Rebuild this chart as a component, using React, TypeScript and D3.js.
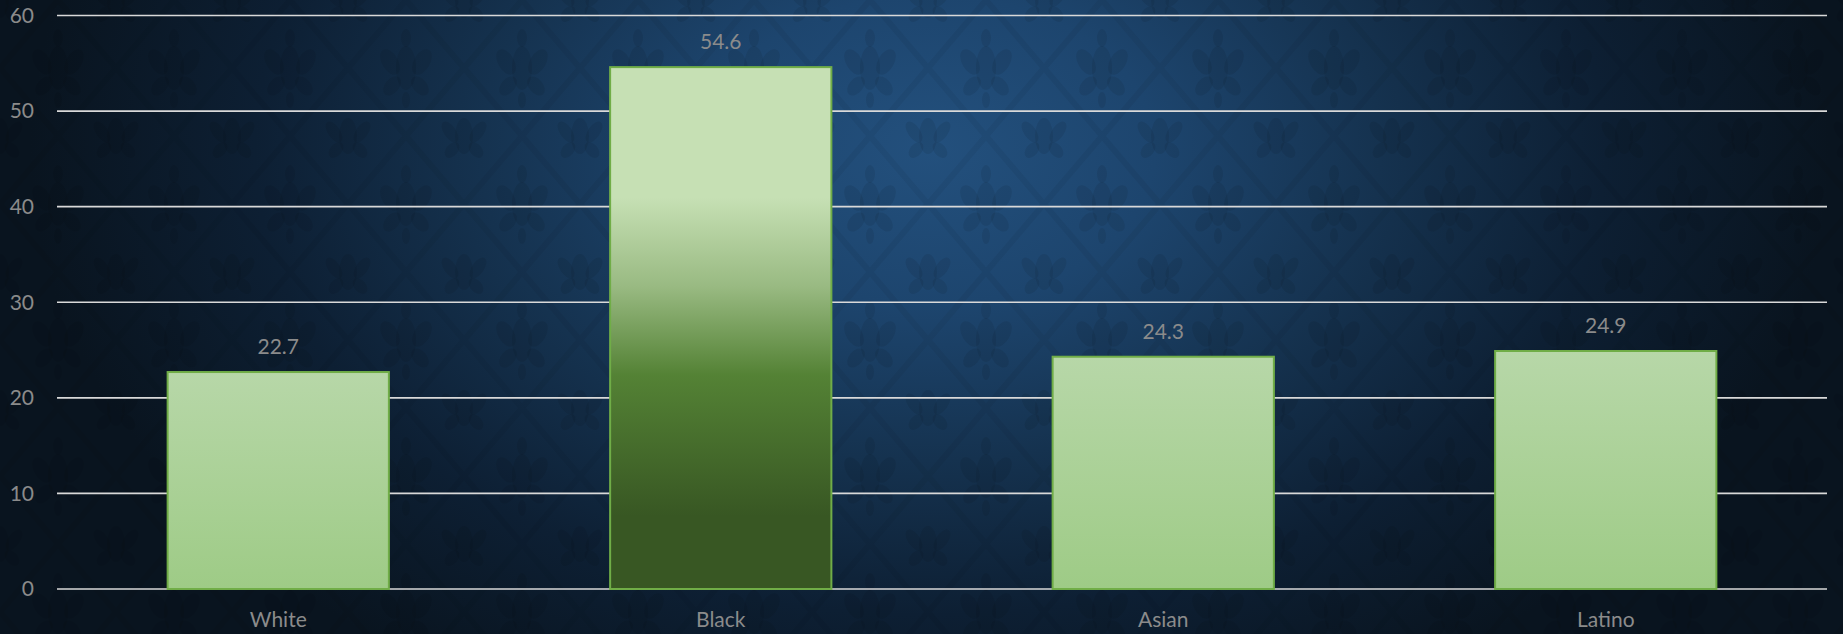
import React from "react";
import * as d3 from "d3";

const categories = ["White", "Black", "Asian", "Latino"];
const values = [22.7, 54.6, 24.3, 24.9];
const yTicks = [0, 10, 20, 30, 40, 50, 60];

const W = 1843;
const H = 634;

export default function App() {
  const left = 57;
  const right = 1827;
  const x = d3
    .scaleBand<string>()
    .domain(categories)
    .range([left, right])
    .paddingInner(0.5)
    .paddingOuter(0.25);
  const y = d3.scaleLinear().domain([0, 60]).range([589, 15.5]);

  const font = "Lato, 'Open Sans', sans-serif";
  const textColor = "#8b8b8b";

  return (
    <svg
      width={W}
      height={H}
      style={{ position: "absolute", left: 0, top: 0, display: "block" }}
    >
      <defs>
        <radialGradient
          id="bg"
          gradientUnits="userSpaceOnUse"
          cx={0}
          cy={0}
          r={1}
          gradientTransform="translate(930,150) scale(900,620)"
        >
          <stop offset="0" stopColor="#23507d" />
          <stop offset="0.25" stopColor="#1d456e" />
          <stop offset="0.5" stopColor="#15324f" />
          <stop offset="0.75" stopColor="#0d1f33" />
          <stop offset="1" stopColor="#09141f" />
        </radialGradient>
        <pattern
          id="damask"
          patternUnits="userSpaceOnUse"
          width={116}
          height={136}
        >
          <g fill="#000" fillOpacity={0.08}>
            <g transform="translate(58,68)">
              <ellipse cx={0} cy={0} rx={10} ry={22} />
              <ellipse cx={-16} cy={-6} rx={8} ry={14} transform="rotate(-30,-16,-6)" />
              <ellipse cx={16} cy={-6} rx={8} ry={14} transform="rotate(30,16,-6)" />
              <ellipse cx={-14} cy={18} rx={7} ry={11} transform="rotate(40,-14,18)" />
              <ellipse cx={14} cy={18} rx={7} ry={11} transform="rotate(-40,14,18)" />
              <ellipse cx={0} cy={-30} rx={5} ry={9} />
              <ellipse cx={0} cy={32} rx={4} ry={8} />
            </g>
            {[
              [0, 0],
              [116, 0],
              [0, 136],
              [116, 136],
            ].map(([cx, cy], i) => (
              <g key={i} transform={`translate(${cx},${cy})`}>
                <ellipse cx={0} cy={0} rx={9} ry={18} />
                <ellipse cx={-14} cy={-4} rx={6} ry={12} transform="rotate(-35,-14,-4)" />
                <ellipse cx={14} cy={-4} rx={6} ry={12} transform="rotate(35,14,-4)" />
                <ellipse cx={-12} cy={14} rx={6} ry={9} transform="rotate(40,-12,14)" />
                <ellipse cx={12} cy={14} rx={6} ry={9} transform="rotate(-40,12,14)" />
              </g>
            ))}
            <path d="M58,0 L116,68 L58,136 L0,68 Z" fill="none" stroke="#000" strokeOpacity={0.05} strokeWidth={6} />
          </g>
        </pattern>
        <linearGradient id="lightBar" x1="0" y1="0" x2="0" y2="1">
          <stop offset="0" stopColor="#b7d7a8" />
          <stop offset="1" stopColor="#9ecb86" />
        </linearGradient>
        <linearGradient id="darkBar" x1="0" y1="0" x2="0" y2="1">
          <stop offset="0" stopColor="#c6e0b4" />
          <stop offset="0.25" stopColor="#c6e0b4" />
          <stop offset="0.42" stopColor="#99ba82" />
          <stop offset="0.59" stopColor="#548235" />
          <stop offset="0.86" stopColor="#385723" />
          <stop offset="1" stopColor="#385723" />
        </linearGradient>
      </defs>

      <rect x={0} y={0} width={W} height={H} fill="url(#bg)" />
      <rect x={0} y={0} width={W} height={H} fill="url(#damask)" />

      {yTicks.map((t) => (
        <g key={t}>
          <line
            x1={left}
            x2={right}
            y1={y(t)}
            y2={y(t)}
            stroke="#d9d9d9"
            strokeWidth={1.6}
          />
          <text
            x={34}
            y={y(t)}
            dy="0.35em"
            textAnchor="end"
            fontFamily={font}
            fontSize={21}
            fill={textColor}
          >
            {t}
          </text>
        </g>
      ))}

      {categories.map((c, i) => {
        const bx = x(c)!;
        const bw = x.bandwidth();
        const top = y(values[i]);
        return (
          <g key={c}>
            <rect
              x={bx}
              y={top}
              width={bw}
              height={y(0) - top}
              fill={c === "Black" ? "url(#darkBar)" : "url(#lightBar)"}
              stroke="#70ad47"
              strokeWidth={2}
            />
            <text
              x={bx + bw / 2}
              y={top - 18}
              textAnchor="middle"
              fontFamily={font}
              fontSize={21}
              fill={textColor}
            >
              {values[i].toFixed(1)}
            </text>
            <text
              x={bx + bw / 2}
              y={627}
              textAnchor="middle"
              fontFamily={font}
              fontSize={21}
              fill={textColor}
            >
              {c}
            </text>
          </g>
        );
      })}
    </svg>
  );
}
